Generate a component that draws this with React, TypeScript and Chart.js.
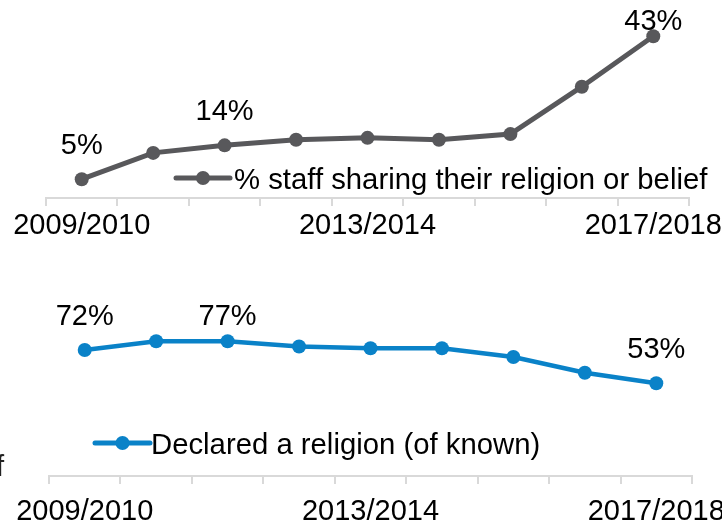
import React, { useEffect, useRef } from "react";
import { Chart, registerables } from "chart.js";

Chart.register(...registerables);

const categories = [
  "2009/2010", "2010/2011", "2011/2012", "2012/2013", "2013/2014",
  "2014/2015", "2015/2016", "2016/2017", "2017/2018",
];
const tickLabels = ["2009/2010", "", "", "", "2013/2014", "", "", "", "2017/2018"];
const sharingValues = [5, 12, 14, 15.5, 16, 15.5, 17, 29.6, 43];
const declaredValues = [72, 77, 77, 74, 73, 73, 68, 59, 53];
const labeledIndexes = [0, 2, 8];
const sharingLabel = "% staff sharing their religion or belief";
const declaredLabel = "Declared a religion (of known)";

const FONT = "'Liberation Sans', Arial, Helvetica, sans-serif";
const GRAY = "#58585b";
const BLUE = "#0a82c8";
const AXIS = "#d9d9d9";

type PanelCfg = {
  values: number[];
  color: string;
  legendText: string;
  yMax: number;
  padding: { left: number; right: number; top: number };
  axisHeight: number;
  tickPadding: number;
  legend: { x1: number; x2: number; y: number; textX: number };
  clampBottom: number;
  lineWidth: number;
  extraText?: { text: string; x: number; y: number };
};

function makeChart(canvas: HTMLCanvasElement, cfg: PanelCfg) {
  const overlay = {
    id: "overlay",
    afterDraw(chart: any) {
      const ctx = chart.ctx as CanvasRenderingContext2D;
      const meta = chart.getDatasetMeta(0);
      ctx.save();
      // data labels
      ctx.font = `29px ${FONT}`;
      ctx.fillStyle = "#000";
      ctx.textAlign = "center";
      ctx.textBaseline = "alphabetic";
      labeledIndexes.forEach((i) => {
        const el = meta.data[i];
        if (!el) return;
        const y = Math.max(el.y - 25, cfg.clampBottom);
        ctx.fillText(`${Math.round(cfg.values[i])}%`, el.x, y);
      });
      // legend
      const L = cfg.legend;
      ctx.strokeStyle = cfg.color;
      ctx.lineWidth = 5;
      ctx.lineCap = "round";
      ctx.beginPath();
      ctx.moveTo(L.x1, L.y);
      ctx.lineTo(L.x2, L.y);
      ctx.stroke();
      ctx.fillStyle = cfg.color;
      ctx.beginPath();
      ctx.arc((L.x1 + L.x2) / 2, L.y, 7, 0, Math.PI * 2);
      ctx.fill();
      ctx.fillStyle = "#000";
      ctx.textAlign = "left";
      ctx.textBaseline = "middle";
      ctx.font = `29.3px ${FONT}`;
      ctx.fillText(cfg.legendText, L.textX, L.y + 3);
      if (cfg.extraText) {
        ctx.fillStyle = "#222";
        ctx.textBaseline = "alphabetic";
        ctx.fillText(cfg.extraText.text, cfg.extraText.x, cfg.extraText.y);
      }
      ctx.restore();
    },
  };

  return new Chart(canvas, {
    type: "line",
    data: {
      labels: categories,
      datasets: [
        {
          label: cfg.legendText,
          data: cfg.values,
          borderColor: cfg.color,
          backgroundColor: cfg.color,
          borderWidth: cfg.lineWidth,
          pointRadius: 7,
          pointBorderWidth: 0,
          pointBackgroundColor: cfg.color,
          tension: 0,
          clip: false as any,
        },
      ],
    },
    options: {
      responsive: false,
      animation: false,
      layout: {
        padding: { left: cfg.padding.left, right: cfg.padding.right, top: cfg.padding.top, bottom: 0 },
      },
      plugins: { legend: { display: false }, tooltip: { enabled: false } },
      scales: {
        x: {
          type: "category",
          offset: true,
          grid: {
            offset: true,
            drawOnChartArea: false,
            drawTicks: true,
            tickLength: 8,
            color: AXIS,
            lineWidth: 2,
          },
          border: { display: true, color: AXIS, width: 2 },
          ticks: {
            autoSkip: false,
            maxRotation: 0,
            minRotation: 0,
            padding: cfg.tickPadding,
            color: "#000",
            font: { family: FONT, size: 29 },
            callback: (_v: any, i: number) => tickLabels[i],
          },
          afterFit: (scale: any) => {
            scale.height = cfg.axisHeight;
            scale.paddingLeft = 0;
            scale.paddingRight = 0;
          },
        },
        y: {
          display: false,
          min: 0,
          max: cfg.yMax,
        },
      },
    },
    plugins: [overlay],
  });
}

export default function App() {
  const topRef = useRef<HTMLCanvasElement>(null);
  const botRef = useRef<HTMLCanvasElement>(null);

  useEffect(() => {
    const c1 = makeChart(topRef.current!, {
      values: sharingValues,
      color: GRAY,
      legendText: sharingLabel,
      yMax: 50,
      padding: { left: 46, right: 33, top: 10 },
      axisHeight: 62,
      tickPadding: 3,
      legend: { x1: 176, x2: 230, y: 178, textX: 234 },
      clampBottom: 30,
      lineWidth: 5,
    });
    const c2 = makeChart(botRef.current!, {
      values: declaredValues,
      color: BLUE,
      legendText: declaredLabel,
      yMax: 100,
      padding: { left: 49, right: 30, top: 41 },
      axisHeight: 49,
      tickPadding: 11,
      legend: { x1: 95, x2: 150, y: 183, textX: 151 },
      clampBottom: 65,
      lineWidth: 4.5,
      extraText: { text: "f", x: -4, y: 216 },
    });
    return () => {
      c1.destroy();
      c2.destroy();
    };
  }, []);

  return (
    <div style={{ position: "absolute", left: 0, top: 0, width: 722, height: 525, background: "#fff" }}>
      <canvas ref={topRef} width={722} height={260} style={{ position: "absolute", left: 0, top: 0 }} />
      <canvas ref={botRef} width={722} height={265} style={{ position: "absolute", left: 0, top: 260 }} />
    </div>
  );
}
